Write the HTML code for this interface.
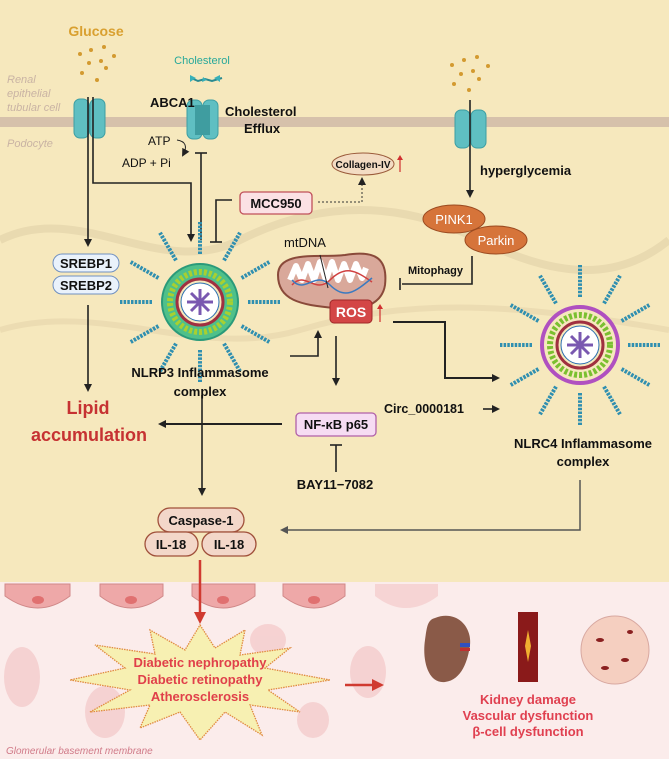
<!DOCTYPE html>
<html><head><meta charset="utf-8"><style>
html,body{margin:0;padding:0;background:#fff}
svg{display:block}
text{font-family:"Liberation Sans",sans-serif}
</style></head><body>
<svg width="669" height="759" viewBox="0 0 669 759" xmlns="http://www.w3.org/2000/svg">
<defs>
<marker id="ah" markerWidth="8" markerHeight="8" refX="6" refY="4" orient="auto" markerUnits="userSpaceOnUse"><path d="M0,0 L8,4 L0,8 Z" fill="#222"/></marker>
<marker id="ahr" markerWidth="12" markerHeight="12" refX="8" refY="6" orient="auto" markerUnits="userSpaceOnUse"><path d="M0,0 L12,6 L0,12 Z" fill="#d03a30"/></marker>
<marker id="ahg" markerWidth="8" markerHeight="8" refX="6" refY="4" orient="auto" markerUnits="userSpaceOnUse"><path d="M0,0 L8,4 L0,8 Z" fill="#555"/></marker>
<g id="spk"><line x1="0" y1="-48" x2="0" y2="-80" stroke="#2f8fb0" stroke-width="4" stroke-dasharray="2.5 1.2"/></g>
</defs>
<!-- backgrounds -->
<rect x="0" y="0" width="669" height="582" fill="#f6e8bd"/>
<rect x="0" y="582" width="669" height="177" fill="#fbeceb"/>
<path d="M0,240 C80,200 160,280 240,240 S400,200 480,240 S620,280 669,240" stroke="#e9dab0" stroke-width="8" fill="none"/>
<path d="M0,330 C100,300 200,360 300,330 S500,300 669,330" stroke="#ecdcb2" stroke-width="6" fill="none"/>
<rect x="0" y="117" width="669" height="10" fill="#d6c1ab"/>
<text x="7" y="83" font-size="11" font-style="italic" fill="#c9b3a4">Renal</text>
<text x="7" y="97" font-size="11" font-style="italic" fill="#c9b3a4">epithelial</text>
<text x="7" y="111" font-size="11" font-style="italic" fill="#c9b3a4">tubular cell</text>
<text x="7" y="147" font-size="11" font-style="italic" fill="#c9b3a4">Podocyte</text>
<!-- glucose -->
<text x="96" y="36" font-size="14" font-weight="bold" fill="#d9a030" text-anchor="middle">Glucose</text>
<g fill="#d39a30"><circle cx="80" cy="54" r="2"/><circle cx="91" cy="50" r="2"/><circle cx="104" cy="47" r="2"/><circle cx="114" cy="56" r="2"/><circle cx="89" cy="63" r="2"/><circle cx="101" cy="61" r="2"/><circle cx="106" cy="68" r="2"/><circle cx="82" cy="73" r="2"/><circle cx="97" cy="80" r="2"/>
<circle cx="452" cy="65" r="2"/><circle cx="464" cy="60" r="2"/><circle cx="477" cy="57" r="2"/><circle cx="488" cy="66" r="2"/><circle cx="461" cy="74" r="2"/><circle cx="473" cy="71" r="2"/><circle cx="479" cy="79" r="2"/><circle cx="454" cy="84" r="2"/><circle cx="469" cy="90" r="2"/></g>
<!-- channels -->
<g fill="#5fbfc2" stroke="#3c9ea3" stroke-width="1">
<rect x="74" y="99" width="15" height="39" rx="6"/><rect x="90" y="99" width="15" height="39" rx="6"/>
<rect x="187" y="100" width="15" height="39" rx="6"/><rect x="203" y="100" width="15" height="39" rx="6"/>
<rect x="455" y="110" width="15" height="38" rx="6"/><rect x="471" y="110" width="15" height="38" rx="6"/></g>
<rect x="195" y="105" width="15" height="30" fill="#3f9da0"/>
<text x="202" y="64" font-size="11" fill="#27a89a" text-anchor="middle">Cholesterol</text>
<path d="M191,78 L198,81 L205,79 L212,81 L222,78" stroke="#2a8a90" stroke-width="2" fill="none"/>
<g fill="#38b0b8"><path d="M190,75 l6,3 l-6,4z"/><path d="M220,75 l-6,3 l6,4z"/><path d="M203,77 l4,3 l-5,2z"/></g>
<text x="150" y="107" font-size="13" font-weight="bold" fill="#111">ABCA1</text>
<text x="225" y="116" font-size="13" font-weight="bold" fill="#111">Cholesterol</text>
<text x="244" y="133" font-size="13" font-weight="bold" fill="#111">Efflux</text>
<text x="148" y="145" font-size="12" fill="#111">ATP</text>
<text x="122" y="167" font-size="12" fill="#111">ADP + Pi</text>
<path d="M177,140 Q190,142 183,155" stroke="#222" fill="none" stroke-width="1" marker-end="url(#ah)"/>
<!-- glucose lines -->
<g stroke="#222" stroke-width="1.6" fill="none">
<line x1="88" y1="97" x2="88" y2="245" marker-end="url(#ah)"/>
<polyline points="93,97 93,183 191,183 191,240" marker-end="url(#ah)"/>
<line x1="201" y1="240" x2="201" y2="153"/><line x1="195" y1="153" x2="207" y2="153"/>
<polyline points="232,200 216,200 216,242"/><line x1="210" y1="242" x2="222" y2="242"/>
<line x1="470" y1="100" x2="470" y2="196" marker-end="url(#ah)"/>
<polyline points="472,256 472,284 402,284"/><line x1="400" y1="278" x2="400" y2="290"/>
<polyline points="290,356 318,356 318,332" marker-end="url(#ah)"/>
<line x1="336" y1="336" x2="336" y2="384" marker-end="url(#ah)"/>
<polyline points="393,322 445,322 445,378 498,378" stroke-width="2" marker-end="url(#ah)"/>
<line x1="88" y1="305" x2="88" y2="390" marker-end="url(#ah)"/>
<line x1="282" y1="424" x2="160" y2="424" stroke-width="2" marker-end="url(#ah)"/>
<line x1="336" y1="472" x2="336" y2="445"/><line x1="330" y1="445" x2="342" y2="445"/>
<line x1="202" y1="395" x2="202" y2="494" marker-end="url(#ah)"/>
<line x1="483" y1="409" x2="498" y2="409" marker-end="url(#ah)"/>
</g>
<polyline points="580,480 580,530 282,530" stroke="#555" stroke-width="1.5" fill="none" marker-end="url(#ahg)"/>
<!-- MCC950 -->
<rect x="240" y="192" width="72" height="22" rx="4" fill="#fbe1e4" stroke="#c0505a" stroke-width="1.3"/>
<text x="276" y="208" font-size="13" font-weight="bold" fill="#111" text-anchor="middle">MCC950</text>
<polyline points="318,202 362,202 362,179" stroke="#333" stroke-dasharray="2 2" fill="none" marker-end="url(#ah)"/>
<ellipse cx="363" cy="164" rx="31" ry="11" fill="#f3dcc3" stroke="#9a5a3a"/>
<text x="363" y="168" font-size="10" font-weight="bold" fill="#111" text-anchor="middle">Collagen-IV</text>
<line x1="400" y1="172" x2="400" y2="158" stroke="#d03030" stroke-width="1.2"/><path d="M397,160 l3,-5 l3,5z" fill="#d03030"/>
<text x="480" y="175" font-size="13" font-weight="bold" fill="#111">hyperglycemia</text>
<ellipse cx="454" cy="219" rx="31" ry="14" fill="#d6743a" stroke="#9a4a20"/>
<text x="454" y="224" font-size="13" fill="#fff" text-anchor="middle">PINK1</text>
<ellipse cx="496" cy="240" rx="31" ry="14" fill="#d6743a" stroke="#9a4a20"/>
<text x="496" y="245" font-size="13" fill="#fff" text-anchor="middle">Parkin</text>
<text x="408" y="274" font-size="11" font-weight="bold" fill="#111">Mitophagy</text>
<!-- mitochondrion -->
<text x="284" y="247" font-size="13" fill="#111">mtDNA</text>
<path d="M278,275 C278,250 320,258 345,255 C375,250 388,258 385,285 C382,305 360,312 335,308 C300,305 278,300 278,275Z" fill="#d9a89a" stroke="#8a4a3a" stroke-width="2"/>
<path d="M290,280 l6,-14 l6,14 l6,-16 l6,16 l6,-18 l6,18 l6,-18 l6,18 l6,-16 l6,16 l6,-16 l6,14 l4,-10" stroke="#fff" stroke-width="6" fill="none" stroke-linejoin="round"/>
<path d="M292,285 C305,270 315,295 330,280 S355,270 372,282" stroke="#d04040" stroke-width="1.5" fill="none"/>
<path d="M292,280 C305,295 315,270 330,285 S355,292 372,278" stroke="#3a7ac0" stroke-width="1.5" fill="none"/>
<line x1="320" y1="255" x2="328" y2="288" stroke="#222"/>
<rect x="330" y="300" width="42" height="23" rx="4" fill="#d34646" stroke="#a02828"/>
<text x="351" y="317" font-size="14" font-weight="bold" fill="#fff" text-anchor="middle">ROS</text>
<line x1="380" y1="322" x2="380" y2="307" stroke="#d03030" stroke-width="1.2"/><path d="M377,309 l3,-5 l3,5z" fill="#d03030"/>
<!-- NLRP3 -->
<g transform="translate(200,302)">
<use href="#spk"/><use href="#spk" transform="rotate(30)"/><use href="#spk" transform="rotate(60)"/><use href="#spk" transform="rotate(90)"/><use href="#spk" transform="rotate(120)"/><use href="#spk" transform="rotate(150)"/><use href="#spk" transform="rotate(180)"/><use href="#spk" transform="rotate(210)"/><use href="#spk" transform="rotate(240)"/><use href="#spk" transform="rotate(270)"/><use href="#spk" transform="rotate(300)"/><use href="#spk" transform="rotate(330)"/>
<circle r="38" fill="#4fc08a" stroke="#2a9a7a" stroke-width="2"/>
<circle r="30" fill="none" stroke="#a8d030" stroke-width="6" stroke-dasharray="3 2"/>
<circle r="23" fill="#f6e8bd" stroke="#a03040" stroke-width="3"/>
<circle r="19" fill="#fff" stroke="#2a70b0" stroke-width="1"/>
<g stroke="#7a58b0" stroke-width="3"><line x1="-13" y1="0" x2="13" y2="0"/><line x1="0" y1="-13" x2="0" y2="13"/><line x1="-9" y1="-9" x2="9" y2="9"/><line x1="-9" y1="9" x2="9" y2="-9"/></g>
</g>
<text x="200" y="377" font-size="13" font-weight="bold" fill="#111" text-anchor="middle">NLRP3 Inflammasome</text>
<text x="200" y="396" font-size="13" font-weight="bold" fill="#111" text-anchor="middle">complex</text>
<!-- NLRC4 -->
<g transform="translate(580,345)">
<use href="#spk"/><use href="#spk" transform="rotate(30)"/><use href="#spk" transform="rotate(60)"/><use href="#spk" transform="rotate(90)"/><use href="#spk" transform="rotate(120)"/><use href="#spk" transform="rotate(150)"/><use href="#spk" transform="rotate(180)"/><use href="#spk" transform="rotate(210)"/><use href="#spk" transform="rotate(240)"/><use href="#spk" transform="rotate(270)"/><use href="#spk" transform="rotate(300)"/><use href="#spk" transform="rotate(330)"/>
<circle r="38" fill="#f6e8bd" stroke="#b050c0" stroke-width="4"/>
<circle r="30" fill="none" stroke="#7ac030" stroke-width="6" stroke-dasharray="3 2"/>
<circle r="23" fill="#f6e8bd" stroke="#a03040" stroke-width="3"/>
<circle r="19" fill="#fff" stroke="#2a70b0" stroke-width="1"/>
<g stroke="#7a58b0" stroke-width="3"><line x1="-13" y1="0" x2="13" y2="0"/><line x1="0" y1="-13" x2="0" y2="13"/><line x1="-9" y1="-9" x2="9" y2="9"/><line x1="-9" y1="9" x2="9" y2="-9"/></g>
</g>
<text x="583" y="448" font-size="13" font-weight="bold" fill="#111" text-anchor="middle">NLRC4 Inflammasome</text>
<text x="583" y="466" font-size="13" font-weight="bold" fill="#111" text-anchor="middle">complex</text>
<!-- SREBP -->
<rect x="53" y="254" width="66" height="18" rx="9" fill="#eaf2fb" stroke="#7090c0"/>
<text x="86" y="268" font-size="13" font-weight="bold" fill="#111" text-anchor="middle">SREBP1</text>
<rect x="53" y="276" width="66" height="18" rx="9" fill="#eaf2fb" stroke="#7090c0"/>
<text x="86" y="290" font-size="13" font-weight="bold" fill="#111" text-anchor="middle">SREBP2</text>
<text x="88" y="414" font-size="18" font-weight="bold" fill="#c63232" text-anchor="middle">Lipid</text>
<text x="89" y="441" font-size="18" font-weight="bold" fill="#c63232" text-anchor="middle">accumulation</text>
<rect x="296" y="413" width="80" height="23" rx="4" fill="#f6dcf3" stroke="#b060a8" stroke-width="1.3"/>
<text x="336" y="429" font-size="13" font-weight="bold" fill="#111" text-anchor="middle">NF-κB p65</text>
<text x="384" y="413" font-size="12.5" font-weight="bold" fill="#111">Circ_0000181</text>
<text x="335" y="489" font-size="13" font-weight="bold" fill="#111" text-anchor="middle">BAY11−7082</text>
<rect x="158" y="508" width="86" height="24" rx="12" fill="#f3d7c9" stroke="#a0503a" stroke-width="1.3"/>
<text x="201" y="525" font-size="13" font-weight="bold" fill="#111" text-anchor="middle">Caspase-1</text>
<rect x="145" y="532" width="53" height="24" rx="12" fill="#f3d7c9" stroke="#a0503a" stroke-width="1.3"/>
<text x="171" y="549" font-size="13" font-weight="bold" fill="#111" text-anchor="middle">IL-18</text>
<rect x="202" y="532" width="54" height="24" rx="12" fill="#f3d7c9" stroke="#a0503a" stroke-width="1.3"/>
<text x="229" y="549" font-size="13" font-weight="bold" fill="#111" text-anchor="middle">IL-18</text>
<!-- bottom -->
<g fill="#eea8a8" stroke="#d08888"><path d="M5,584 H70 V596 Q38,620 5,596Z"/><path d="M100,584 H163 V596 Q131,620 100,596Z"/><path d="M192,584 H255 V596 Q223,620 192,596Z"/><path d="M283,584 H345 V596 Q314,620 283,596Z"/></g>
<path d="M375,584 H438 V596 Q406,620 375,596Z" fill="#f6d4d4"/>
<g fill="#e07070"><ellipse cx="38" cy="600" rx="6" ry="4"/><ellipse cx="131" cy="600" rx="6" ry="4"/><ellipse cx="223" cy="600" rx="6" ry="4"/><ellipse cx="314" cy="600" rx="6" ry="4"/></g>
<g fill="#f3c8c8" opacity="0.7"><ellipse cx="22" cy="677" rx="18" ry="30"/><ellipse cx="105" cy="712" rx="20" ry="26"/><ellipse cx="368" cy="672" rx="18" ry="26"/><ellipse cx="313" cy="720" rx="16" ry="18"/><ellipse cx="268" cy="640" rx="18" ry="16"/></g>
<line x1="200" y1="560" x2="200" y2="620" stroke="#d03a30" stroke-width="2.5" marker-end="url(#ahr)"/>
<polygon points="200,625 215,648 245,630 240,655 290,648 265,668 330,680 268,690 300,712 250,705 262,735 225,712 200,740 180,712 140,728 150,705 90,712 130,690 70,680 125,668 95,645 155,654 150,630 185,650" fill="#f7f0b2" stroke="#e08a40" stroke-width="1.3" stroke-dasharray="1.5 1"/>
<text x="200" y="667" font-size="13" font-weight="bold" fill="#e0404a" text-anchor="middle">Diabetic nephropathy</text>
<text x="200" y="684" font-size="13" font-weight="bold" fill="#e0404a" text-anchor="middle">Diabetic retinopathy</text>
<text x="200" y="701" font-size="13" font-weight="bold" fill="#e0404a" text-anchor="middle">Atherosclerosis</text>
<line x1="345" y1="685" x2="380" y2="685" stroke="#d03a30" stroke-width="2.5" marker-end="url(#ahr)"/>
<path d="M435,618 C455,610 472,625 470,645 C468,660 462,680 445,682 C428,684 422,660 425,640 C427,625 428,620 435,618Z" fill="#8a5a48"/>
<rect x="460" y="643" width="10" height="4" fill="#3050c0"/><rect x="460" y="648" width="10" height="3" fill="#c03030"/>
<rect x="518" y="612" width="20" height="70" fill="#8a1a1a"/>
<path d="M528,630 L531,646 L528,662 L525,646Z" fill="#f0b030"/>
<circle cx="615" cy="650" r="34" fill="#f5cfc0" stroke="#d8a8a0"/>
<g fill="#8a2020"><ellipse cx="600" cy="640" rx="4" ry="2"/><ellipse cx="625" cy="660" rx="4" ry="2"/><ellipse cx="630" cy="632" rx="3" ry="2"/><ellipse cx="605" cy="668" rx="4" ry="2"/></g>
<text x="528" y="704" font-size="13" font-weight="bold" fill="#e04050" text-anchor="middle">Kidney damage</text>
<text x="528" y="720" font-size="13" font-weight="bold" fill="#e04050" text-anchor="middle">Vascular dysfunction</text>
<text x="528" y="736" font-size="13" font-weight="bold" fill="#e04050" text-anchor="middle">β-cell dysfunction</text>
<text x="6" y="754" font-size="10" font-style="italic" fill="#d07a88">Glomerular basement membrane</text>
</svg>
</body></html>
